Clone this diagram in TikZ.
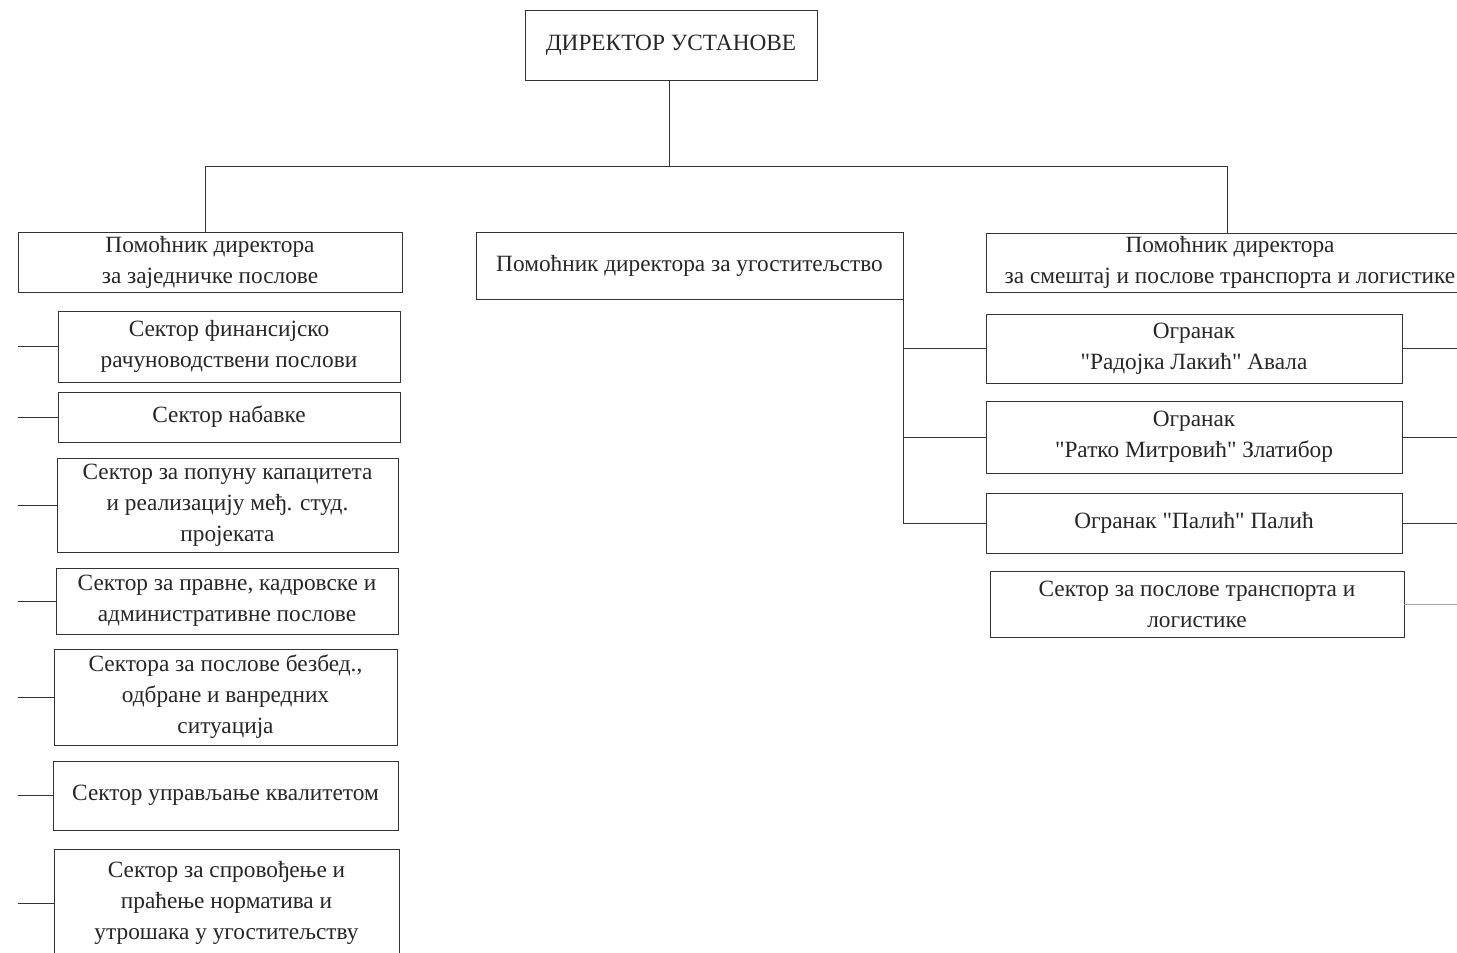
\documentclass[tikz,border=0pt]{standalone}
\usepackage{fontspec}
\setmainfont{Liberation Serif}[Ligatures=TeXOff]
\tikzset{
  box/.style={draw=black!80, line width=0.9pt, align=center, inner sep=1pt,
              text=black!85, font=\fontsize{23.3}{31}\selectfont},
  link/.style={draw=black!80, line width=0.9pt},
}
\begin{document}
\begin{tikzpicture}[x=1pt,y=-1pt]
\useasboundingbox (0,0) rectangle (1457,953);
\clip (0,0) rectangle (1457,953);
% top
\node[box, minimum width=292, minimum height=70] (dir) at (671,45) {ДИРЕКТОР УСТАНОВЕ};
% level 2
\node[box, minimum width=384, minimum height=60] (a1) at (210,262) {Помоћник директора\\за заједничке послове};
\node[box, minimum width=427, minimum height=67] (a2) at (689.5,265.5) {Помоћник директора за угоститељство};
\node[box, minimum width=488, minimum height=59] (a3) at (1230,262.5) {Помоћник директора\\за смештај и послове транспорта и логистике};
% left column
\node[box, minimum width=342, minimum height=71] (s1) at (229,346.5) {Сектор финансијско\\рачуноводствени послови};
\node[box, minimum width=342, minimum height=50] (s2) at (229,417) {Сектор набавке};
\node[box, minimum width=341, minimum height=94] (s3) at (227.5,505) {Сектор за попуну капацитета\\и реализацију међ. студ.\\пројеката};
\node[box, minimum width=342, minimum height=66] (s4) at (227,601) {Сектор за правне, кадровске и\\административне послове};
\node[box, minimum width=343, minimum height=96] (s5) at (225.5,697) {Сектора за послове безбед.,\\одбране и ванредних\\ситуација};
\node[box, minimum width=345, minimum height=69] (s6) at (225.5,795.5) {Сектор управљање квалитетом};
\node[box, minimum width=345, minimum height=108] (s7) at (226.5,903) {Сектор за спровођење и\\праћење норматива и\\утрошака у угоститељству};
% right column
\node[box, minimum width=416, minimum height=69] (r1) at (1194,348.5) {Огранак\\"Радојка Лакић" Авала};
\node[box, minimum width=416, minimum height=72] (r2) at (1194,437) {Огранак\\"Ратко Митровић" Златибор};
\node[box, minimum width=416, minimum height=60] (r3) at (1194,523) {Огранак "Палић" Палић};
\node[box, minimum width=414, minimum height=66] (r4) at (1197,604) {Сектор за послове транспорта и\\логистике};
% free ends
\coordinate (bus) at (669,166);
\coordinate (busL) at (205,166);
\coordinate (busR) at (1227,166);
\coordinate (lx) at (18,0);
\coordinate (rx) at (1457,0);
% connectors
\draw[link] (dir.south -| bus) -- (bus);
\draw[link] (busL) -- (busR);
\draw[link] (busL) -- (busL |- a1.north);
\draw[link] (busR) -- (busR |- a3.north);
\foreach \s in {s1,s2,s3,s4,s5,s6,s7}{
  \draw[link] (lx |- \s.west) -- (\s.west);
}
\draw[link] (a2.south east) |- (r1.west);
\draw[link] (a2.south east) |- (r2.west);
\draw[link] (a2.south east) |- (r3.west);
\foreach \r in {r1,r2,r3}{
  \draw[link] (\r.east) -- (rx |- \r.east);
}
\draw[link, draw=black!35] (r4.east) -- (rx |- r4.east);
\end{tikzpicture}
\end{document}
